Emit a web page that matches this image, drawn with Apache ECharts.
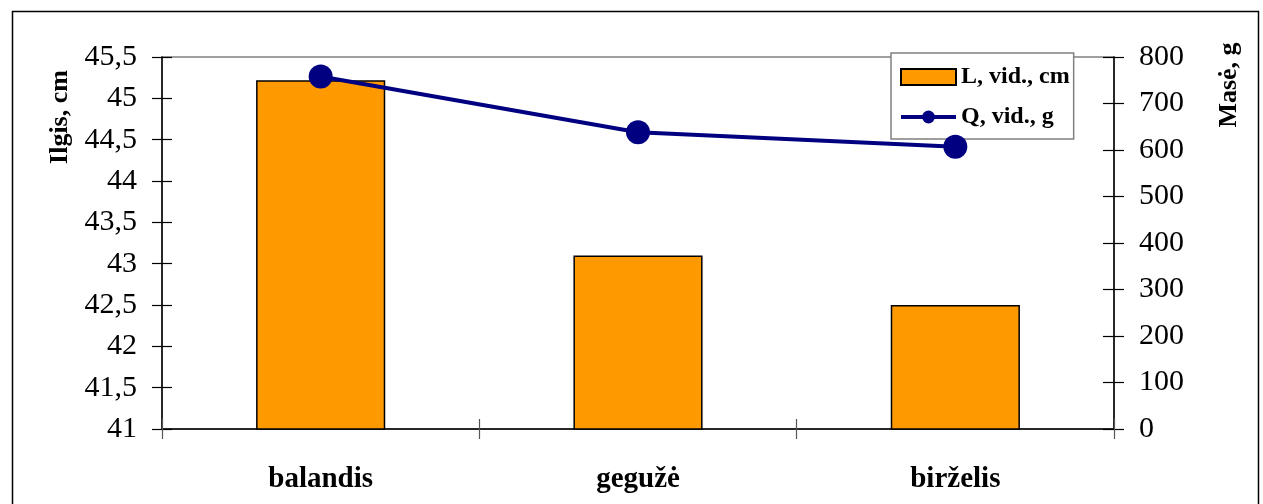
<!DOCTYPE html>
<html>
<head>
<meta charset="utf-8">
<script src="https://cdn.jsdelivr.net/npm/echarts@6/dist/echarts.min.js"></script>
<style>html,body{margin:0;padding:0;background:#fff;}#c{width:1263px;height:504px;}</style>
</head>
<body>
<div id="c"></div>
<script>
const categories = ['balandis', 'gegužė', 'birželis'];
const lengthCm = [45.22, 43.1, 42.5];
const massG = [758, 638, 607];
const seriesNames = ['L, vid., cm', 'Q, vid., g'];
const leftAxisTitle = 'Ilgis, cm';
const rightAxisTitle = 'Masė, g';

const FONT = "'Liberation Serif', 'Times New Roman', serif";
const chart = echarts.init(document.getElementById('c'), null, {renderer: 'canvas'});
const leftTickFmt = v => String(v).replace('.', ',');

const baseY = (pos, min, max, interval, extra) => Object.assign({
  type: 'value', position: pos, min: min, max: max, interval: interval,
  splitLine: {show: false},
  axisLine: {show: true, lineStyle: {color: '#000', width: 1.5}},
  axisTick: {show: true, inside: false, length: 10, lineStyle: {color: '#000', width: 1.2}},
  axisLabel: {show: true, margin: 25, color: '#000', fontFamily: FONT, fontSize: 30}
}, extra || {});

chart.setOption({
  animation: false,
  backgroundColor: '#fff',
  textStyle: {fontFamily: FONT},
  grid: {left: 162, right: 149, top: 57, bottom: 75, show: true, borderColor: '#808080', borderWidth: 1.5, backgroundColor: 'transparent'},
  legend: {
    orient: 'vertical', left: 891, top: 53,
    padding: [12, 4, 10, 8], itemGap: 16,
    itemWidth: 55, itemHeight: 16,
    backgroundColor: '#fff', borderColor: '#808080', borderWidth: 1.5,
    lineStyle: {width: 4},
    textStyle: {fontFamily: FONT, fontSize: 24, fontWeight: 'bold', color: '#000', lineHeight: 24},
    data: [{name: seriesNames[0], icon: 'rect'}, {name: seriesNames[1]}]
  },
  xAxis: [
    {
      type: 'category', data: categories, position: 'bottom',
      axisLine: {show: true, lineStyle: {color: '#000', width: 1.5}},
      axisTick: {show: true, inside: false, length: 10, lineStyle: {color: '#555', width: 1.2}},
      axisLabel: {margin: 36, color: '#000', fontFamily: FONT, fontSize: 29, fontWeight: 'bold'},
      splitLine: {show: false}
    },
    {
      type: 'category', data: categories, position: 'bottom',
      axisLine: {show: false},
      axisTick: {show: true, inside: true, length: 10, lineStyle: {color: '#555', width: 1.2}},
      axisLabel: {show: false},
      splitLine: {show: false}
    }
  ],
  yAxis: [
    baseY('left', 41, 45.5, 0.5, {axisLabel: {margin: 25, color: '#000', fontFamily: FONT, fontSize: 30, formatter: leftTickFmt}}),
    baseY('right', 0, 800, 100),
    baseY('left', 41, 45.5, 0.5, {axisLine: {show: false}, axisLabel: {show: false}, axisTick: {show: true, inside: true, length: 10, lineStyle: {color: '#000', width: 1.2}}}),
    baseY('right', 0, 800, 100, {axisLine: {show: false}, axisLabel: {show: false}, axisTick: {show: true, inside: true, length: 11, lineStyle: {color: '#000', width: 1.2}}})
  ],
  series: [
    {
      name: seriesNames[0], type: 'bar', xAxisIndex: 0, yAxisIndex: 0,
      data: lengthCm, barWidth: '40.7%',
      itemStyle: {color: '#FF9900', borderColor: '#000', borderWidth: 1.5}
    },
    {
      name: seriesNames[1], type: 'line', xAxisIndex: 0, yAxisIndex: 1,
      data: massG, symbol: 'circle', symbolSize: 24, z: 5,
      lineStyle: {color: '#000080', width: 4},
      itemStyle: {color: '#000080'}
    }
  ],
  graphic: [
    {type: 'rect', left: 10, top: 9, shape: {x: 0, y: 0, width: 1246, height: 510}, style: {fill: null, stroke: '#000', lineWidth: 1.5}, silent: true, z: -1},
    {type: 'text', x: 60, y: 117, rotation: Math.PI / 2, style: {text: leftAxisTitle, fontFamily: FONT, fontSize: 26, fontWeight: 'bold', fill: '#000', align: 'center', verticalAlign: 'middle'}},
    {type: 'text', x: 1229, y: 85, rotation: Math.PI / 2, style: {text: rightAxisTitle, fontFamily: FONT, fontSize: 26, fontWeight: 'bold', fill: '#000', align: 'center', verticalAlign: 'middle'}}
  ]
});
</script>
</body>
</html>
